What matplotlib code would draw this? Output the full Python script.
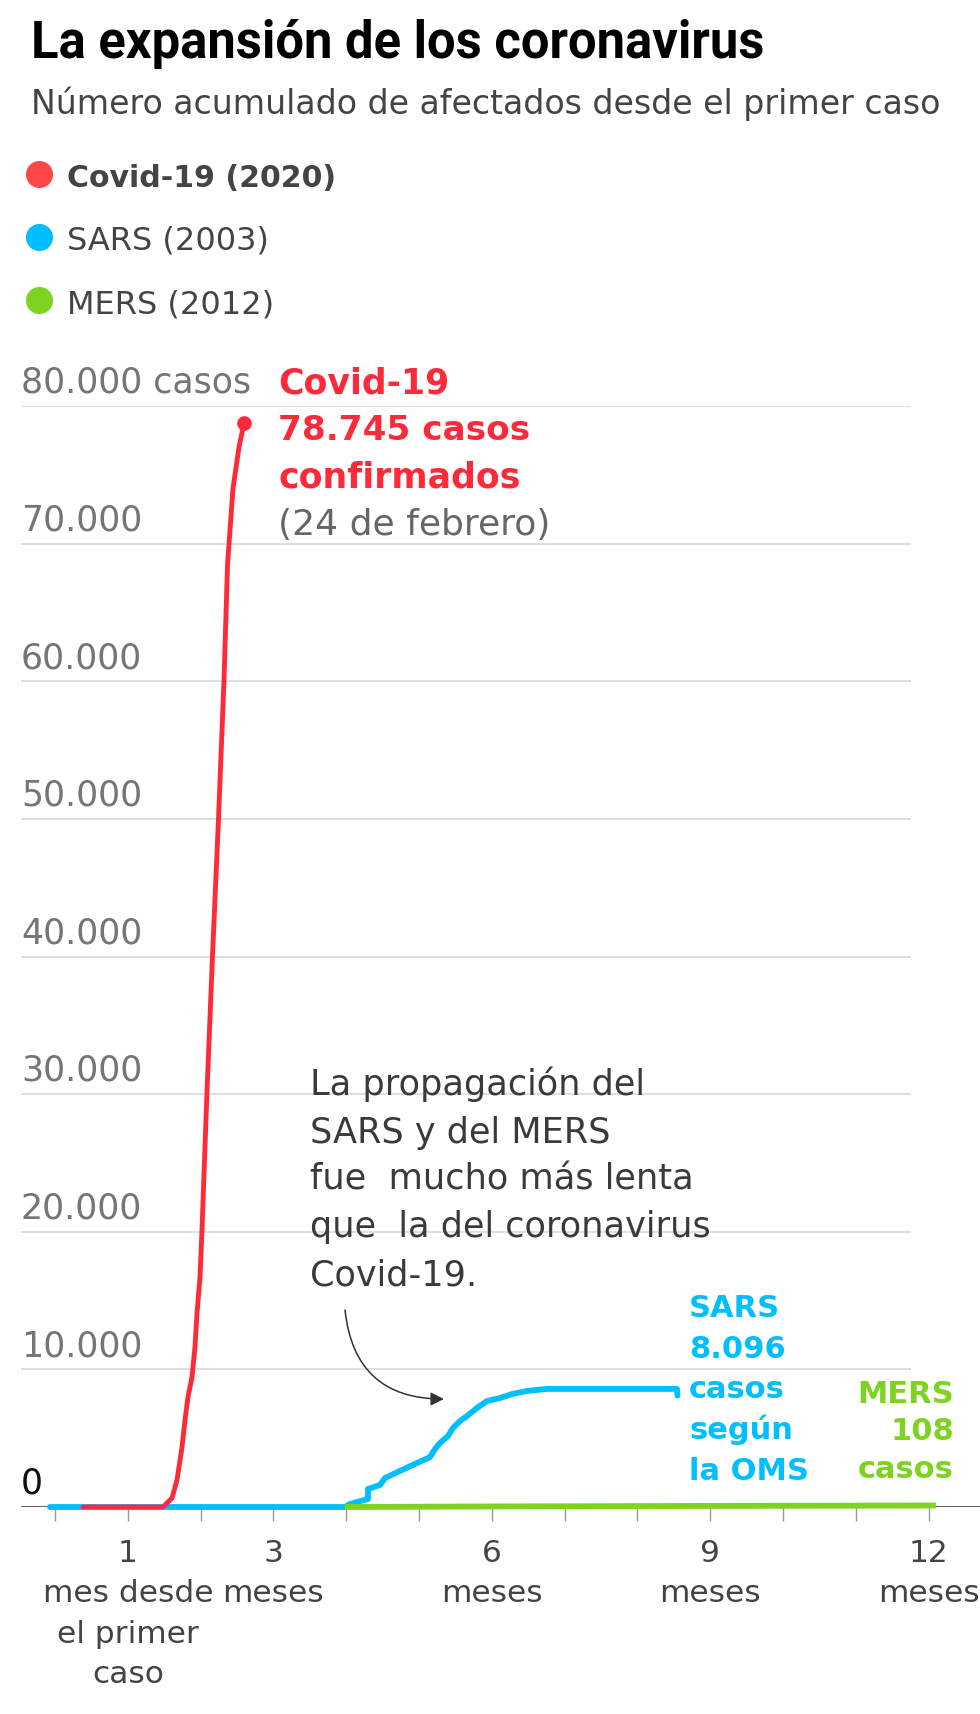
import matplotlib
matplotlib.use("Agg")
import matplotlib.pyplot as plt
from matplotlib.lines import Line2D
from matplotlib.patches import FancyArrowPatch

# Data (months since first case, cumulative cases)
covid_months = [0.385, 1.484, 1.607, 1.676, 1.745, 1.786, 1.827, 1.882, 1.923, 1.951,
                1.992, 2.019, 2.088, 2.163, 2.246, 2.321, 2.370, 2.445, 2.527, 2.596]
covid_cases = [0, 0, 650, 1960, 4360, 6320, 7990, 9450, 11630, 14100,
               16700, 20100, 30200, 40000, 50000, 60000, 68500, 74000, 77000, 78745]

sars_months = [-0.07, 3.984, 4.052, 4.299, 4.30, 4.464, 4.533, 4.739, 4.945, 5.151,
               5.220, 5.288, 5.398, 5.467, 5.563, 5.659, 5.797, 5.934, 6.113, 6.277,
               6.484, 6.758, 7.212, 8.544, 8.55]
sars_cases = [0, 0, 220, 580, 1310, 1600, 2110, 2620, 3130, 3630,
              4220, 4650, 5160, 5740, 6250, 6610, 7200, 7700, 7920, 8210,
              8430, 8580, 8580, 8580, 8096]

mers_months = [3.98, 6.0, 9.0, 12.1]
mers_cases = [0, 40, 80, 108]

grid_values = [10000, 20000, 30000, 40000, 50000, 60000, 70000, 80000]
grid_labels = ["10.000", "20.000", "30.000", "40.000", "50.000", "60.000", "70.000", "80.000 casos"]
tick_months = list(range(13))
tick_labels = {1: "1\nmes desde\nel primer\ncaso", 3: "3\nmeses", 6: "6\nmeses",
               9: "9\nmeses", 12: "12\nmeses"}

legend_items = [("Covid-19 (2020)", "#ff4747", "bold"),
                ("SARS (2003)", "#00bfff", "normal"),
                ("MERS (2012)", "#7ed321", "normal")]

RED = "#fd2a3a"
BLUE = "#00bfff"
GREEN = "#7ed321"

W, H = 980, 1714
fig = plt.figure(figsize=(W / 100, H / 100), dpi=100)
plt.rcParams['font.family'] = ['DejaVu Sans']


def fx(x):
    return x / W


def fy(y):
    return 1 - y / H


# axes: month 0 at 55px, 72.8px per month; 0 cases at 1507px, 80000 at 406px
px_left, px_right = 21, 980
ax = fig.add_axes([fx(px_left), fy(1507), (px_right - px_left) / W, (1507 - 406) / H])
ax.set_xlim((px_left - 55) / 72.8, (px_right - 55) / 72.8)
ax.set_ylim(0, 80000)
for s in ax.spines.values():
    s.set_visible(False)
ax.set_yticks([])

grid_end = (911 - 55) / 72.8
ax.hlines(grid_values, ax.get_xlim()[0], grid_end, color="#dcdcdc", lw=1.3, zorder=1)
ax.axhline(0, color="#333333", lw=1.1, zorder=1)

ax.set_xticks(tick_months)
ax.set_xticklabels([tick_labels.get(m, "") for m in tick_months],
                   fontsize=22.5, color="#444444", linespacing=1.5)
ax.tick_params(axis="x", length=10, width=1, color="#999999", pad=13)

# y labels above gridlines
for v, lab in zip([0] + grid_values, ["0"] + grid_labels):
    ax.annotate(lab, (ax.get_xlim()[0], v), xytext=(0, 9.5), textcoords="offset points",
                ha="left", va="baseline", fontsize=25,
                color="#111111" if v == 0 else "#757575")

ax.plot(sars_months, sars_cases, color=BLUE, lw=4.2, solid_capstyle="round",
        solid_joinstyle="round", clip_on=False, zorder=3)
ax.plot(mers_months, mers_cases, color=GREEN, lw=4.2, solid_capstyle="butt",
        clip_on=False, zorder=4)
ax.plot(covid_months, covid_cases, color=RED, lw=3.5, solid_capstyle="round",
        solid_joinstyle="round", clip_on=False, zorder=5)
ax.plot(covid_months[-1], covid_cases[-1], "o", color=RED, ms=9.5, clip_on=False, zorder=6)

# title and subtitle
fig.text(fx(31), fy(58), "La expansión de los coronavirus", fontsize=36.5, fontweight="bold",
         family="Roboto", color="#000000", va="baseline")
fig.text(fx(31), fy(114), "Número acumulado de afectados desde el primer caso", fontsize=23.9,
         color="#444444", va="baseline")

# legend
for i, (lab, col, wt) in enumerate(legend_items):
    yc = 174 + i * 63
    fig.add_artist(Line2D([fx(39)], [fy(yc)], marker="o", markersize=18.5, color=col,
                          transform=fig.transFigure, linestyle="none"))
    fig.text(fx(67), fy(yc + 13), lab, fontsize=21.6 if wt == "bold" else 23,
             fontweight=wt, color="#444444", va="baseline")

# covid label
for i, (txt, col, wt, sz) in enumerate([("Covid-19", RED, "bold", 25),
                                        ("78.745 casos", RED, "bold", 24.7),
                                        ("confirmados", RED, "bold", 25),
                                        ("(24 de febrero)", "#666666", "normal", 26)]):
    fig.text(fx(278), fy(393 + i * 47.3), txt, fontsize=sz, fontweight=wt, color=col,
             va="baseline")

# SARS label
for i, txt in enumerate(["SARS", "8.096", "casos", "según", "la OMS"]):
    fig.text(fx(689), fy(1317 + i * 40.7), txt, fontsize=22, fontweight="bold", color=BLUE,
             va="baseline")

# MERS label
for i, txt in enumerate(["MERS", "108", "casos"]):
    fig.text(fx(954), fy(1403 + i * 37.5), txt, fontsize=22, fontweight="bold", color=GREEN,
             va="baseline", ha="right")

# annotation
note = ["La propagación del", "SARS y del MERS", "fue  mucho más lenta",
        "que  la del coronavirus", "Covid-19."]
for i, txt in enumerate(note):
    fig.text(fx(310), fy(1095 + i * 47.5), txt, fontsize=25.3, color="#3a3a3a", va="baseline")

arrow = FancyArrowPatch((fx(345), fy(1310)), (fx(444), fy(1399)), transform=fig.transFigure,
                        connectionstyle="arc3,rad=0.45", arrowstyle="-|>,head_length=8,head_width=4",
                        color="#333333", lw=1.1, shrinkA=0, shrinkB=0)
fig.add_artist(arrow)

fig.savefig("out.png", dpi=100, facecolor="white")
